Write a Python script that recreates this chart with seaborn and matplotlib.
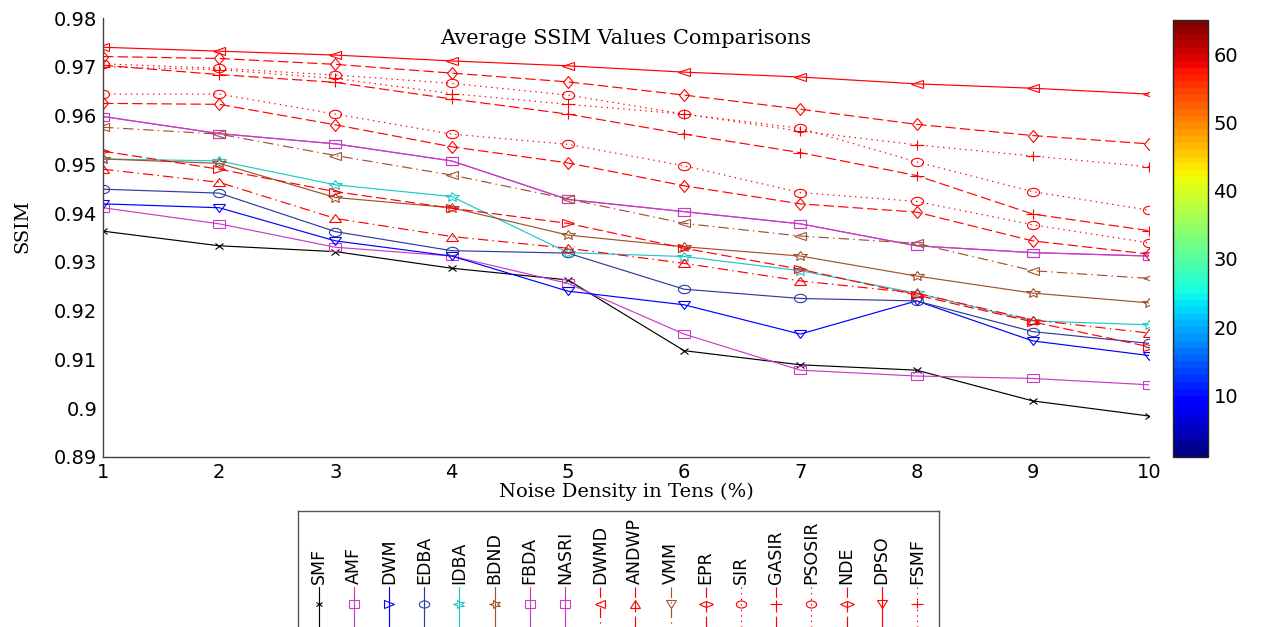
import numpy as np
import matplotlib
matplotlib.use("Agg")
import matplotlib.pyplot as plt
import seaborn as sns
from matplotlib.markers import MarkerStyle
from matplotlib.transforms import Affine2D
from matplotlib.ticker import FixedLocator, FuncFormatter
from matplotlib.colors import Normalize
from matplotlib.cm import ScalarMappable

# ---------------- data ----------------
noise_density = [1, 2, 3, 4, 5, 6, 7, 8, 9, 10]

methods = ["SMF", "AMF", "DWM", "EDBA", "IDBA", "BDND", "FBDA", "NASRI", "DWMD",
           "ANDWP", "VMM", "EPR", "SIR", "GASIR", "PSOSIR", "NDE", "DPSO", "FSMF"]

smf    = [0.9363, 0.9333, 0.9321, 0.9287, 0.9263, 0.9118, 0.9089, 0.9078, 0.9015, 0.8984]
amf    = [0.9411, 0.9378, 0.9330, 0.9312, 0.9256, 0.9152, 0.9078, 0.9066, 0.9061, 0.9048]
dwm    = [0.9419, 0.9411, 0.9343, 0.9312, 0.9240, 0.9212, 0.9152, 0.9220, 0.9138, 0.9108]
edba   = [0.9449, 0.9441, 0.9362, 0.9323, 0.9318, 0.9244, 0.9225, 0.9220, 0.9157, 0.9133]
idba   = [0.9511, 0.9507, 0.9458, 0.9434, 0.9319, 0.9311, 0.9282, 0.9236, 0.9179, 0.9171]
bdnd   = [0.9511, 0.9502, 0.9432, 0.9411, 0.9355, 0.9331, 0.9312, 0.9271, 0.9236, 0.9216]
fbda   = [0.9598, 0.9563, 0.9542, 0.9507, 0.9428, 0.9403, 0.9378, 0.9333, 0.9319, 0.9312]
nasri  = [0.9598, 0.9563, 0.9542, 0.9507, 0.9428, 0.9403, 0.9378, 0.9333, 0.9319, 0.9312]
dwmd   = [0.9490, 0.9463, 0.9389, 0.9352, 0.9328, 0.9297, 0.9261, 0.9236, 0.9181, 0.9154]
andwp  = [0.9527, 0.9490, 0.9444, 0.9410, 0.9379, 0.9328, 0.9285, 0.9232, 0.9177, 0.9126]
vmm    = [0.9576, 0.9562, 0.9518, 0.9478, 0.9429, 0.9379, 0.9353, 0.9338, 0.9282, 0.9266]
epr    = [0.9625, 0.9623, 0.9581, 0.9536, 0.9503, 0.9456, 0.9419, 0.9402, 0.9343, 0.9316]
sir    = [0.9644, 0.9644, 0.9603, 0.9562, 0.9541, 0.9497, 0.9442, 0.9424, 0.9376, 0.9339]
gasir  = [0.9703, 0.9684, 0.9668, 0.9634, 0.9603, 0.9562, 0.9524, 0.9477, 0.9398, 0.9364]
psosir = [0.9706, 0.9697, 0.9683, 0.9666, 0.9642, 0.9603, 0.9574, 0.9505, 0.9444, 0.9406]
nde    = [0.9721, 0.9717, 0.9705, 0.9687, 0.9669, 0.9642, 0.9613, 0.9582, 0.9559, 0.9542]
dpso   = [0.9740, 0.9732, 0.9724, 0.9712, 0.9702, 0.9689, 0.9679, 0.9665, 0.9656, 0.9644]
fsmf   = [0.9700, 0.9694, 0.9676, 0.9645, 0.9623, 0.9603, 0.9568, 0.9540, 0.9517, 0.9495]

series = [smf, amf, dwm, edba, idba, bdnd, fbda, nasri, dwmd,
          andwp, vmm, epr, sir, gasir, psosir, nde, dpso, fsmf]

y_ticks = [0.89, 0.90, 0.91, 0.92, 0.93, 0.94, 0.95, 0.96, 0.97, 0.98]
cbar_ticks = [10, 20, 30, 40, 50, 60]

# ---------------- styles ----------------
RED = "#ff0000"
MAG = "#c83cc8"
BRN = "#a0522d"
SOLID = "-"
DASH = (0, (7.5, 3.0))
DOT = (0, (1.0, 3.0))
DASHDOT = (0, (7.5, 3.0, 1.0, 3.0))

style = {
    "SMF":    ("#000000", SOLID,   "x", 4.0),
    "AMF":    (MAG,       SOLID,   "s", 6.0),
    "DWM":    ("#0000ff", SOLID,   "v", 6.0),
    "EDBA":   ("#2c3c9c", SOLID,   "o", 6.0),
    "IDBA":   ("#20c8c8", SOLID,   "*", 7.0),
    "BDND":   (BRN,       SOLID,   "*", 7.0),
    "FBDA":   (MAG,       SOLID,   "s", 6.0),
    "NASRI":  (MAG,       SOLID,   "s", 6.0),
    "DWMD":   (RED,       DASHDOT, "^", 6.0),
    "ANDWP":  (RED,       DASH,    ">", 6.0),
    "VMM":    (BRN,       DASHDOT, "<", 6.0),
    "EPR":    (RED,       DASH,    "d", 6.0),
    "SIR":    (RED,       DOT,     "o", 6.0),
    "GASIR":  (RED,       DASH,    "+", 7.0),
    "PSOSIR": (RED,       DOT,     "o", 6.0),
    "NDE":    (RED,       DASH,    "d", 6.0),
    "DPSO":   (RED,       SOLID,   "<", 6.0),
    "FSMF":   (RED,       DOT,     "+", 7.0),
}

WIDEN = 1.45  # markers are drawn a little wider than tall


def marker_shape(m, rotate=0):
    return MarkerStyle(m, fillstyle="none",
                       transform=Affine2D().rotate_deg(rotate).scale(WIDEN, 1.0))


sns.set_style("white")
plt.rcParams["font.family"] = ["DejaVu Sans"]
plt.rcParams["text.color"] = "black"
plt.rcParams["lines.scale_dashes"] = False

W, H = 1262, 627
fig = plt.figure(figsize=(W / 100, H / 100), dpi=100)

# main axes (box in pixel units converted to figure fractions)
ax_l, ax_r, ax_t, ax_b = 103, 1149, 18, 457
ax = fig.add_axes([ax_l / W, 1 - ax_b / H, (ax_r - ax_l) / W, (ax_b - ax_t) / H])

for name, values in zip(methods, series):
    color, ls, mk, ms = style[name]
    sns.lineplot(x=noise_density, y=values, ax=ax, color=color, linestyle=ls,
                 linewidth=0.85, marker=marker_shape(mk), markersize=ms,
                 markeredgecolor=color, markerfacecolor="none",
                 markeredgewidth=0.8, estimator=None, legend=False)

ax.set_xlim(1, 10)
ax.set_ylim(0.89, 0.98)
ax.xaxis.set_major_locator(FixedLocator(noise_density))
ax.yaxis.set_major_locator(FixedLocator(y_ticks))
ax.yaxis.set_major_formatter(FuncFormatter(lambda v, p: f"{v:g}"))
for s in ("top", "right"):
    ax.spines[s].set_visible(False)
for s in ("left", "bottom"):
    ax.spines[s].set_color("#404040")
    ax.spines[s].set_linewidth(1.0)
ax.tick_params(axis="both", direction="in", length=7.5, width=0.9, color="#404040",
               labelsize=14, labelcolor="black")
ax.tick_params(axis="x", pad=4)
ax.tick_params(axis="y", pad=4)
ax.set_xlabel("")
ax.set_ylabel("")
ax.grid(False)

ax.text(0.5, 1 - (38 - ax_t) / (ax_b - ax_t), "Average SSIM Values Comparisons",
        transform=ax.transAxes, ha="center", va="center",
        family="DejaVu Serif", fontsize=15, color="black")
fig.text(0.5 * (ax_l + ax_r) / W, 1 - 492 / H, "Noise Density in Tens (%)",
         ha="center", va="center", family="DejaVu Serif", fontsize=14, color="black")
fig.text(22 / W, 1 - 226 / H, "SSIM", rotation=90, ha="center", va="center",
         family="DejaVu Serif", fontsize=14, color="black")

# colour bar (jet, 64 levels)
cax = fig.add_axes([1173 / W, 1 - 457 / H, 35 / W, (457 - 20) / H])
sm = ScalarMappable(norm=Normalize(1, 65), cmap=plt.get_cmap("jet", 64))
cb = fig.colorbar(sm, cax=cax, ticks=cbar_ticks)
cb.outline.set_linewidth(1.0)
cax.tick_params(direction="in", length=4, width=0.8, left=True, right=True,
                labelsize=14, pad=4, labelcolor="black")

# rotated legend below the plot
lg_l, lg_r, lg_t = 298, 939, 511
lax = fig.add_axes([lg_l / W, -0.03, (lg_r - lg_l) / W, 0.03 + 1 - lg_t / H])
lax.set_xlim(lg_l, lg_r)
lax.set_ylim(H + 0.03 * H, lg_t)
lax.set_xticks([])
lax.set_yticks([])
for s in ("left", "right", "top"):
    lax.spines[s].set_color("#555555")
    lax.spines[s].set_linewidth(1.0)
lax.spines["bottom"].set_visible(False)
lax.set_facecolor("white")

x0, dx = 318.5, 35.2
for i, name in enumerate(methods):
    color, ls, mk, ms = style[name]
    xc = x0 + i * dx
    lax.plot([xc, xc], [587, H + 5], color=color, linestyle=ls, linewidth=0.85)
    lax.plot([xc], [604], linestyle="none", marker=marker_shape(mk, rotate=90),
             markersize=ms * 0.85, markeredgecolor=color, markerfacecolor="none",
             markeredgewidth=0.8)
    lax.text(xc, 584, name, rotation=90, ha="center", va="bottom", fontsize=12.5,
             color="black")

fig.savefig("out.png", dpi=100, facecolor="white")
